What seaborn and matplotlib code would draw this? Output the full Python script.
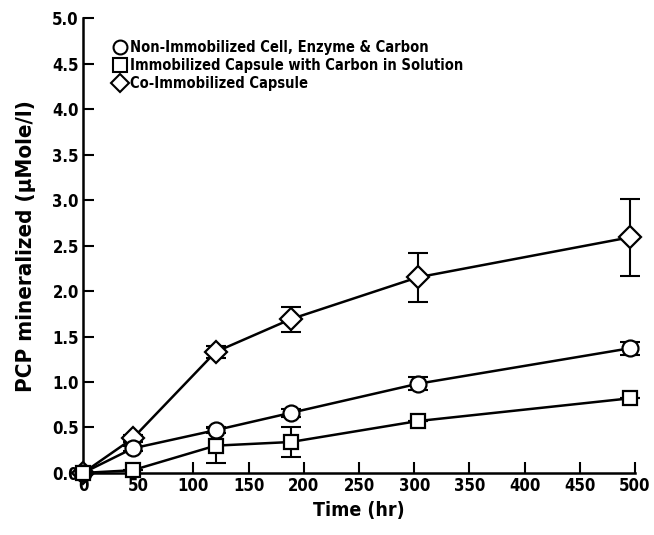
import pandas as pd
import seaborn as sns
from matplotlib import pyplot as plt
from matplotlib import font_manager

# data
series_names = ["Non-Immobilized Cell, Enzyme & Carbon",
                "Immobilized Capsule with Carbon in Solution",
                "Co-Immobilized Capsule"]
time_hr = [0, 45, 120, 188, 303, 495]
circle_vals = [0.0, 0.27, 0.47, 0.66, 0.98, 1.37]
circle_err = [0.0, 0.03, 0.03, 0.04, 0.07, 0.07]
square_vals = [0.0, 0.03, 0.30, 0.34, 0.57, 0.82]
square_err = [0.0, 0.0, 0.19, 0.17, 0.0, 0.0]
diamond_vals = [0.0, 0.38, 1.33, 1.69, 2.15, 2.59]
diamond_err = [0.0, 0.04, 0.07, 0.14, 0.27, 0.42]
x_ticks = [0, 50, 100, 150, 200, 250, 300, 350, 400, 450, 500]
y_ticks = [0.0, 0.5, 1.0, 1.5, 2.0, 2.5, 3.0, 3.5, 4.0, 4.5, 5.0]

sns.set_style("ticks")
names = {f.name for f in font_manager.fontManager.ttflist}
fam = [n for n in ['Liberation Sans Narrow', 'DejaVu Sans Condensed', 'DejaVu Sans'] if n in names]
plt.rcParams['font.family'] = fam
plt.rcParams['font.stretch'] = 'condensed'
plt.rcParams['font.weight'] = 'bold'
for k in ['text.color', 'axes.labelcolor', 'xtick.color', 'ytick.color']:
    plt.rcParams[k] = 'black'

rows = []
for name, vals in zip(series_names, [circle_vals, square_vals, diamond_vals]):
    for t, v in zip(time_hr, vals):
        rows.append({"time": t, "pcp": v, "series": name})
df = pd.DataFrame(rows)

fig = plt.figure(figsize=(6.54, 5.35), dpi=100)
ax = fig.add_axes([0.127, 0.116, 0.844, 0.85])

# error bars first so markers sit on top
for vals, err in zip([circle_vals, square_vals, diamond_vals], [circle_err, square_err, diamond_err]):
    ax.errorbar(time_hr, vals, yerr=err, fmt='none', ecolor='black',
                elinewidth=1.5, capsize=7, capthick=1.5, zorder=2, clip_on=False)

sns.lineplot(data=df, x="time", y="pcp", hue="series", style="series",
             hue_order=series_names, style_order=series_names,
             palette=["black"] * 3, markers=["o", "s", "D"], dashes=False,
             linewidth=1.8, markersize=11, markerfacecolor="white",
             markeredgecolor="black", markeredgewidth=1.6, ax=ax, legend=False,
             clip_on=False)

# circle, square, diamond: square on top, diamond at the back
for line, ms, z in zip(ax.lines[-3:], [11.5, 10.5, 11], [4, 5, 3]):
    line.set_markersize(ms)
    line.set_zorder(z)

# legend with markers only
handles = [plt.Line2D([], [], marker=m, ls='none', mfc='white', mec='black', mew=1.5, ms=s)
           for m, s in zip(["o", "s", "D"], [10, 9.5, 9])]
ax.legend(handles, series_names, loc='upper left', bbox_to_anchor=(0.03, 0.98),
          frameon=False, handletextpad=0.2, labelspacing=0.2, handlelength=1.0,
          prop={'size': 10.5, 'weight': 'bold', 'family': fam, 'stretch': 'condensed'})

ax.set_xlim(0, 500)
ax.set_ylim(0, 5)
ax.set_xticks(x_ticks)
ax.set_yticks(y_ticks)
ax.set_yticklabels([f"{v:.1f}" for v in y_ticks])
ax.tick_params(direction='in', length=8, width=1.5, labelsize=12, pad=3)
sns.despine(ax=ax)
for sp in ["left", "bottom"]:
    ax.spines[sp].set_linewidth(1.8)
    ax.spines[sp].set_color('black')
ax.set_xlabel("Time (hr)", fontsize=14, fontweight='bold')
ax.set_ylabel("PCP mineralized (μMole/l)", fontsize=16, fontweight='bold')
ax.yaxis.set_label_coords(-0.085, 0.5)

plt.savefig("out.png", dpi=100)
